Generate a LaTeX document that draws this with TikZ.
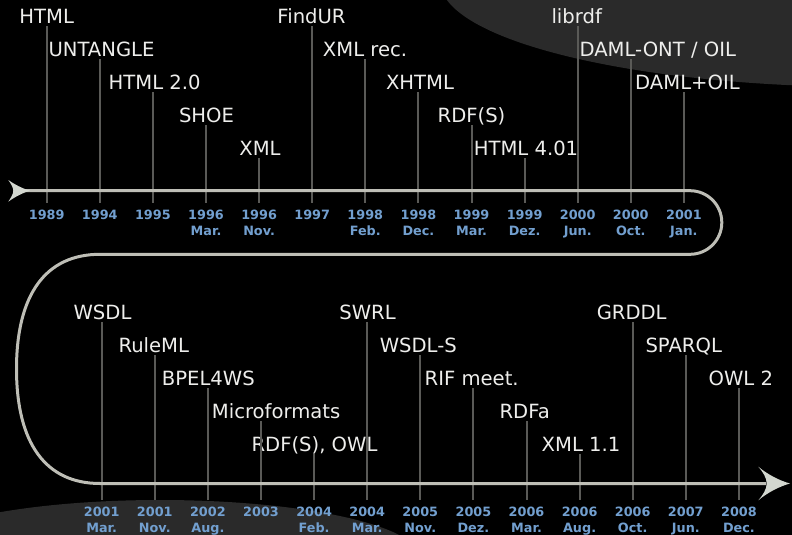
\documentclass[tikz,border=0pt]{standalone}
\usepackage{fontspec}
\setmainfont{DejaVu Sans}
\definecolor{bgshape}{HTML}{2A2A2A}
\definecolor{evtext}{HTML}{EEEEEC}
\definecolor{datecol}{HTML}{729FCF}
\definecolor{tickcol}{HTML}{5A5A57}
\definecolor{linecol}{HTML}{BEBEB6}
\definecolor{headcol}{HTML}{D3D7CF}
\begin{document}
\begin{tikzpicture}[x=1pt,y=-1pt,
  ev/.style={text=evtext, font=\fontsize{19.6}{20}\selectfont, inner sep=0pt, anchor=base},
  dt/.style={text=datecol, font=\fontsize{12.8}{14}\selectfont\bfseries, inner sep=0pt, anchor=base},
  tickline/.style={draw=tickcol, line width=2pt},
  timeline/.style={draw=linecol, line width=3pt},
  arrowhd/.style={fill=headcol}]
\useasboundingbox (0,0) rectangle (792,535);
\fill[black] (0,0) rectangle (792,535);
\begin{scope}
  \clip (0,0) rectangle (792,535);
  \fill[bgshape] (870,-19) ellipse [x radius=430, y radius=106];
  \fill[bgshape] (160,557.6) ellipse [x radius=260, y radius=57.6];
\end{scope}

% tick end coordinates
\foreach \i in {0,...,12} {
  \coordinate (tt\i) at ({46.7+53.1*\i},202.5);
  \coordinate (tb\i) at ({101.7+53.1*\i},500);
}

% top events
\node[ev] (a0) at (46.7,23.3) {HTML};
\node[ev,anchor=base west] (a1) at (48.3,56.3) {UNTANGLE};
\node[ev] (a2) at (154.7,89.3) {HTML 2.0};
\node[ev] (a3) at (206.5,122.3) {SHOE};
\node[ev] (a4) at (260,155.3) {XML};
\node[ev] (a5) at (311.5,23.3) {FindUR};
\node[ev] (a6) at (365,56.3) {XML rec.};
\node[ev] (a7) at (420,89.3) {XHTML};
\node[ev] (a8) at (471.5,122.3) {RDF(S)};
\node[ev] (a9) at (526,155.3) {HTML 4.01};
\node[ev] (a10) at (576.7,23.3) {librdf};
\node[ev,anchor=base west] (a11) at (579.3,56.3) {DAML-ONT / OIL};
\node[ev,anchor=base west] (a12) at (635,89.3) {DAML+OIL};

% bottom events
\node[ev] (b0) at (102.5,319.3) {WSDL};
\node[ev] (b1) at (153.8,352.3) {RuleML};
\node[ev] (b2) at (208.3,385.3) {BPEL4WS};
\node[ev,anchor=base west] (b3) at (211.7,418.3) {Microformats};
\node[ev] (b4) at (314.5,451.3) {RDF(S), OWL};
\node[ev] (b5) at (367.5,319.3) {SWRL};
\node[ev] (b6) at (418.3,352.3) {WSDL-S};
\node[ev] (b7) at (471.7,385.3) {RIF meet.};
\node[ev] (b8) at (524.7,418.3) {RDFa};
\node[ev] (b9) at (581,451.3) {XML 1.1};
\node[ev] (b10) at (631.7,319.3) {GRDDL};
\node[ev] (b11) at (683.7,352.3) {SPARQL};
\node[ev] (b12) at (740.8,385.3) {OWL 2};

% ticks
\foreach \i in {0,...,12} {
  \draw[tickline] ([yshift=-3pt]a\i.base -| tt\i) -- (tt\i);
  \draw[tickline] ([yshift=-3pt]b\i.base -| tb\i) -- (tb\i);
}

% timeline
\coordinate (lstart) at (13.3,190.7);
\coordinate (lend) at (766,483.5);
\draw[timeline] (lstart) -- (690,190.7)
  .. controls (707.6,190.7) and (721.8,204.9) .. (721.8,222.5)
  .. controls (721.8,240.1) and (707.6,254.3) .. (690,254.3)
  -- (100,254.3)
  .. controls (45.7,254.3) and (16.5,294.4) .. (16.5,368.9)
  .. controls (16.5,443.4) and (45.7,483.5) .. (100,483.5)
  -- (lend);

% arrowheads
\fill[arrowhd] (30,190.7) .. controls (22,188.5) and (14,184) .. (8.3,180)
  .. controls (11,184) and (13.3,187.5) .. (13.3,190.7)
  .. controls (13.3,194) and (11,197.5) .. (8.3,201.7)
  .. controls (14,197.5) and (22,193) .. (30,190.7) -- cycle;
\fill[arrowhd] (790,483.5) .. controls (779,480.5) and (767,474) .. (758.3,466.7)
  .. controls (763,472) and (766.7,478) .. (766.7,483.5)
  .. controls (766.7,489) and (763,495) .. (758.3,500.3)
  .. controls (767,493) and (779,486.5) .. (790,483.5) -- cycle;

% dates
\foreach \yr/\mo [count=\i from 0] in {1989/{},1994/{},1995/{},1996/Mar.,1996/Nov.,1997/{},1998/Feb.,1998/Dec.,1999/Mar.,1999/Dez.,2000/Jun.,2000/Oct.,2001/Jan.} {
  \node[dt] (ty\i) at ({46.7+53.1*\i},219) {\yr};
  \node[dt] (tm\i) at ({46.7+53.1*\i},235.7) {\mo};
}
\foreach \yr/\mo [count=\i from 0] in {2001/Mar.,2001/Nov.,2002/Aug.,2003/{},2004/Feb.,2004/Mar.,2005/Nov.,2005/Dez.,2006/Mar.,2006/Aug.,2006/Oct.,2007/Jun.,2008/Dec.} {
  \node[dt] (by\i) at ({101.7+53.1*\i},516.7) {\yr};
  \node[dt] (bm\i) at ({101.7+53.1*\i},532.3) {\mo};
}
\end{tikzpicture}
\end{document}
